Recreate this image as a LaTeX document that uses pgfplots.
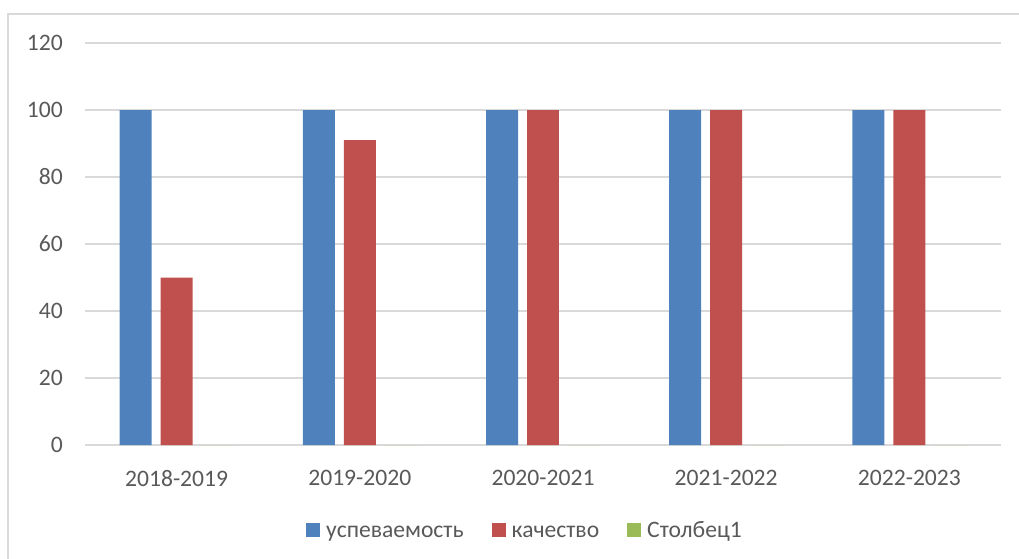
\documentclass[border=0pt]{standalone}
\usepackage{pgfplots}
\pgfplotsset{compat=1.18}
\usepackage{fontspec}
\setmainfont{Carlito}
\definecolor{cblue}{HTML}{4F81BD}
\definecolor{cred}{HTML}{C0504D}
\definecolor{cgreen}{HTML}{9BBB59}
\definecolor{ctext}{HTML}{595959}
\definecolor{cgrid}{HTML}{D9D9D9}
\begin{document}
\fontsize{11.8pt}{14pt}\selectfont
\begin{tikzpicture}
\useasboundingbox (-42.5pt,-56.5pt) rectangle (467pt,222.5pt);
\draw[cgrid, line width=0.6pt] (-38.5pt,-60pt) -- (-38.5pt,215.5pt) -- (470pt,215.5pt);
\begin{axis}[
  scale only axis,
  width=458pt, height=201pt,
  at={(0pt,0pt)}, anchor=south west,
  xmin=-0.5, xmax=4.5,
  ymin=0, ymax=120,
  ytick={0,20,...,120},
  xtick={0,1,2,3,4},
  xticklabels={2018-2019,2019-2020,2020-2021,2021-2022,2022-2023},
  axis line style={draw=none},
  major tick length=0pt,
  ymajorgrids,
  grid style={cgrid, line width=0.6pt},
  ticklabel style={font=\fontsize{11.8pt}{14pt}\selectfont, text=ctext},
  xticklabel style={yshift=-8.5pt},
  yticklabel style={xshift=-7pt},
  /pgf/number format/assume math mode=true,
  clip=false,
  legend columns=3,
  legend style={draw=none, fill=none, at={(219.5pt,-42.5pt)}, anchor=center,
    font=\fontsize{11.8pt}{14pt}\selectfont, text=ctext,
    nodes={text height=1.55ex, text depth=0.25ex, inner xsep=0pt, inner ysep=1pt},
    /tikz/every odd column/.append style={column sep=3pt},
    /tikz/every even column/.append style={column sep=14pt}},
  legend cell align=left,
  legend image code/.code={\fill[#1] (0pt,-3.5pt) rectangle (7pt,3.5pt);},
]
\addplot[ybar, bar width=0.1746, bar shift=-0.2237, fill=cblue, draw=none]
  coordinates {(0,100) (1,100) (2,100) (3,100) (4,100)};
\addlegendentry{успеваемость}
\addplot[ybar, bar width=0.1746, bar shift=0, fill=cred, draw=none]
  coordinates {(0,50) (1,91) (2,100) (3,100) (4,100)};
\addlegendentry{качество}
\addplot[ybar, bar width=0.1746, bar shift=0.2237, fill=cgreen, draw=none]
  coordinates {(0,0) (1,0) (2,0) (3,0) (4,0)};
\addlegendentry{Столбец1}
\end{axis}
\end{tikzpicture}
\end{document}
